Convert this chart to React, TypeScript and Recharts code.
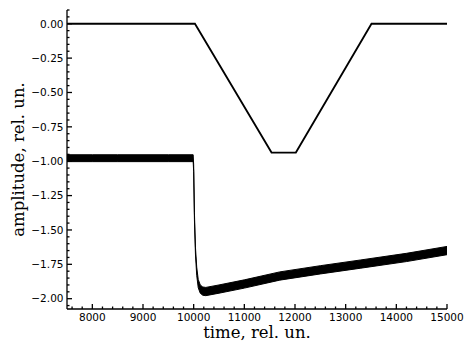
import React from 'react';
import { ComposedChart, Line, Area, XAxis, YAxis } from 'recharts';

// trapezoid reference pulse (thin line)
const pulseTime = [7500, 10025, 11537, 12017, 13510, 15000];
const pulseAmp = [0, 0, -0.937, -0.937, 0, 0];

// measured signal (noisy band), lower and upper edges
const sigTime = [
  7500, 8000, 8500, 9000, 9500, 9990, 10000, 10015, 10035, 10060, 10090, 10130, 10180, 10240,
  10500, 11000, 11700, 12500, 13300, 14200, 15000,
];
const sigLow = [
  -1.003, -1.003, -1.003, -1.003, -1.003, -1.003, -1.075, -1.425, -1.675, -1.83, -1.92, -1.96,
  -1.975, -1.978, -1.96, -1.923, -1.865, -1.82, -1.778, -1.73, -1.68,
];
const sigHigh = [
  -0.953, -0.953, -0.953, -0.953, -0.953, -0.953, -1.025, -1.375, -1.625, -1.77, -1.86, -1.9,
  -1.915, -1.918, -1.9, -1.863, -1.805, -1.76, -1.718, -1.67, -1.62,
];

const xMajor = [8000, 9000, 10000, 11000, 12000, 13000, 14000, 15000];
const yMajor = [0, -0.25, -0.5, -0.75, -1, -1.25, -1.5, -1.75, -2];

const X_DOMAIN: [number, number] = [7500, 15000];
const Y_DOMAIN: [number, number] = [-2.075, 0.1];

const xTicks: number[] = [];
for (let v = 7600; v <= 15000; v += 200) xTicks.push(v);
const yTicks: number[] = [];
for (let i = -41; i <= 2; i++) yTicks.push(Math.round(i * 5) / 100);

const pulseData = pulseTime.map((t, i) => ({ t, v: pulseAmp[i] }));
const sigData = sigTime.map((t, i) => ({ t, band: [sigLow[i], sigHigh[i]] }));

const TICK_FONT = 'DejaVu Sans, sans-serif';
const TITLE_FONT = 'DejaVu Serif, serif';
const isXMajor = (v: number) => xMajor.includes(v);
const isYMajor = (v: number) => yMajor.some((m) => Math.abs(m - v) < 1e-6);
const fmtY = (v: number) => v.toFixed(2).replace('-', '\u2212');

const BottomTick = ({ x, y, payload }: any) => {
  const major = isXMajor(payload.value);
  return (
    <g>
      <line x1={x} x2={x} y1={y} y2={y - (major ? 5 : 2.5)} stroke="#000" strokeWidth={1.3} />
      {major && (
        <text x={x} y={y + 12} textAnchor="middle" fontSize={10.5} fontFamily={TICK_FONT} fill="#000">
          {payload.value}
        </text>
      )}
    </g>
  );
};

const TopTick = ({ x, y, payload }: any) => {
  const major = isXMajor(payload.value);
  return <line x1={x} x2={x} y1={y} y2={y + (major ? 5 : 2.5)} stroke="#000" strokeWidth={1.3} />;
};

const LeftTick = ({ x, y, payload }: any) => {
  const major = isYMajor(payload.value);
  return (
    <g>
      <line x1={x} x2={x + (major ? 5 : 2.5)} y1={y} y2={y} stroke="#000" strokeWidth={1.3} />
      {major && (
        <text x={x - 3.5} y={y + 3.8} textAnchor="end" fontSize={10.5} fontFamily={TICK_FONT} fill="#000">
          {fmtY(payload.value)}
        </text>
      )}
    </g>
  );
};

const RightTick = ({ x, y, payload }: any) => {
  const major = isYMajor(payload.value);
  return <line x1={x} x2={x - (major ? 5 : 2.5)} y1={y} y2={y} stroke="#000" strokeWidth={1.3} />;
};

const XTitle = ({ viewBox }: any) => (
  <text
    x={viewBox.x + viewBox.width / 2}
    y={viewBox.y + 29}
    textAnchor="middle"
    fontSize={16.5}
    fontFamily={TITLE_FONT}
    fill="#000"
  >
    time, rel. un.
  </text>
);

const YTitle = ({ viewBox }: any) => {
  const cx = 24;
  const cy = viewBox.y + viewBox.height / 2;
  return (
    <text
      x={cx}
      y={cy}
      transform={`rotate(-90 ${cx} ${cy})`}
      textAnchor="middle"
      fontSize={16.5}
      fontFamily={TITLE_FONT}
      fill="#000"
    >
      amplitude, rel. un.
    </text>
  );
};

const axisLine = { stroke: '#000', strokeWidth: 1.3 };

export default function App() {
  return (
    <div style={{ position: 'absolute', left: 0, top: 0, width: 474, height: 355, background: '#fff' }}>
      <ComposedChart width={474} height={355} margin={{ top: 10, right: 27, bottom: 0, left: 0 }}>
        <XAxis
          xAxisId="b"
          type="number"
          dataKey="t"
          domain={X_DOMAIN}
          allowDataOverflow
          ticks={xTicks}
          interval={0}
          tickSize={0}
          tickMargin={0}
          tickLine={false}
          tick={<BottomTick />}
          axisLine={axisLine}
          height={46}
          label={<XTitle />}
        />
        <XAxis
          xAxisId="t"
          orientation="top"
          type="number"
          dataKey="t"
          domain={X_DOMAIN}
          allowDataOverflow
          ticks={xTicks}
          interval={0}
          tickSize={0}
          tickMargin={0}
          tickLine={false}
          tick={<TopTick />}
          axisLine={axisLine}
          height={0}
        />
        <YAxis
          yAxisId="l"
          type="number"
          domain={Y_DOMAIN}
          allowDataOverflow
          ticks={yTicks}
          interval={0}
          tickSize={0}
          tickMargin={0}
          tickLine={false}
          tick={<LeftTick />}
          axisLine={axisLine}
          width={67}
          label={<YTitle />}
        />
        <YAxis
          yAxisId="r"
          orientation="right"
          type="number"
          domain={Y_DOMAIN}
          allowDataOverflow
          ticks={yTicks}
          interval={0}
          tickSize={0}
          tickMargin={0}
          tickLine={false}
          tick={<RightTick />}
          axisLine={axisLine}
          width={0}
        />
        <Area
          xAxisId="b"
          yAxisId="l"
          data={sigData}
          dataKey="band"
          type="linear"
          stroke="#000"
          strokeWidth={1}
          fill="#000"
          fillOpacity={1}
          dot={false}
          activeDot={false}
          isAnimationActive={false}
        />
        <Line
          xAxisId="b"
          yAxisId="l"
          data={pulseData}
          dataKey="v"
          type="linear"
          stroke="#000"
          strokeWidth={1.8}
          dot={false}
          activeDot={false}
          isAnimationActive={false}
        />
      </ComposedChart>
    </div>
  );
}
